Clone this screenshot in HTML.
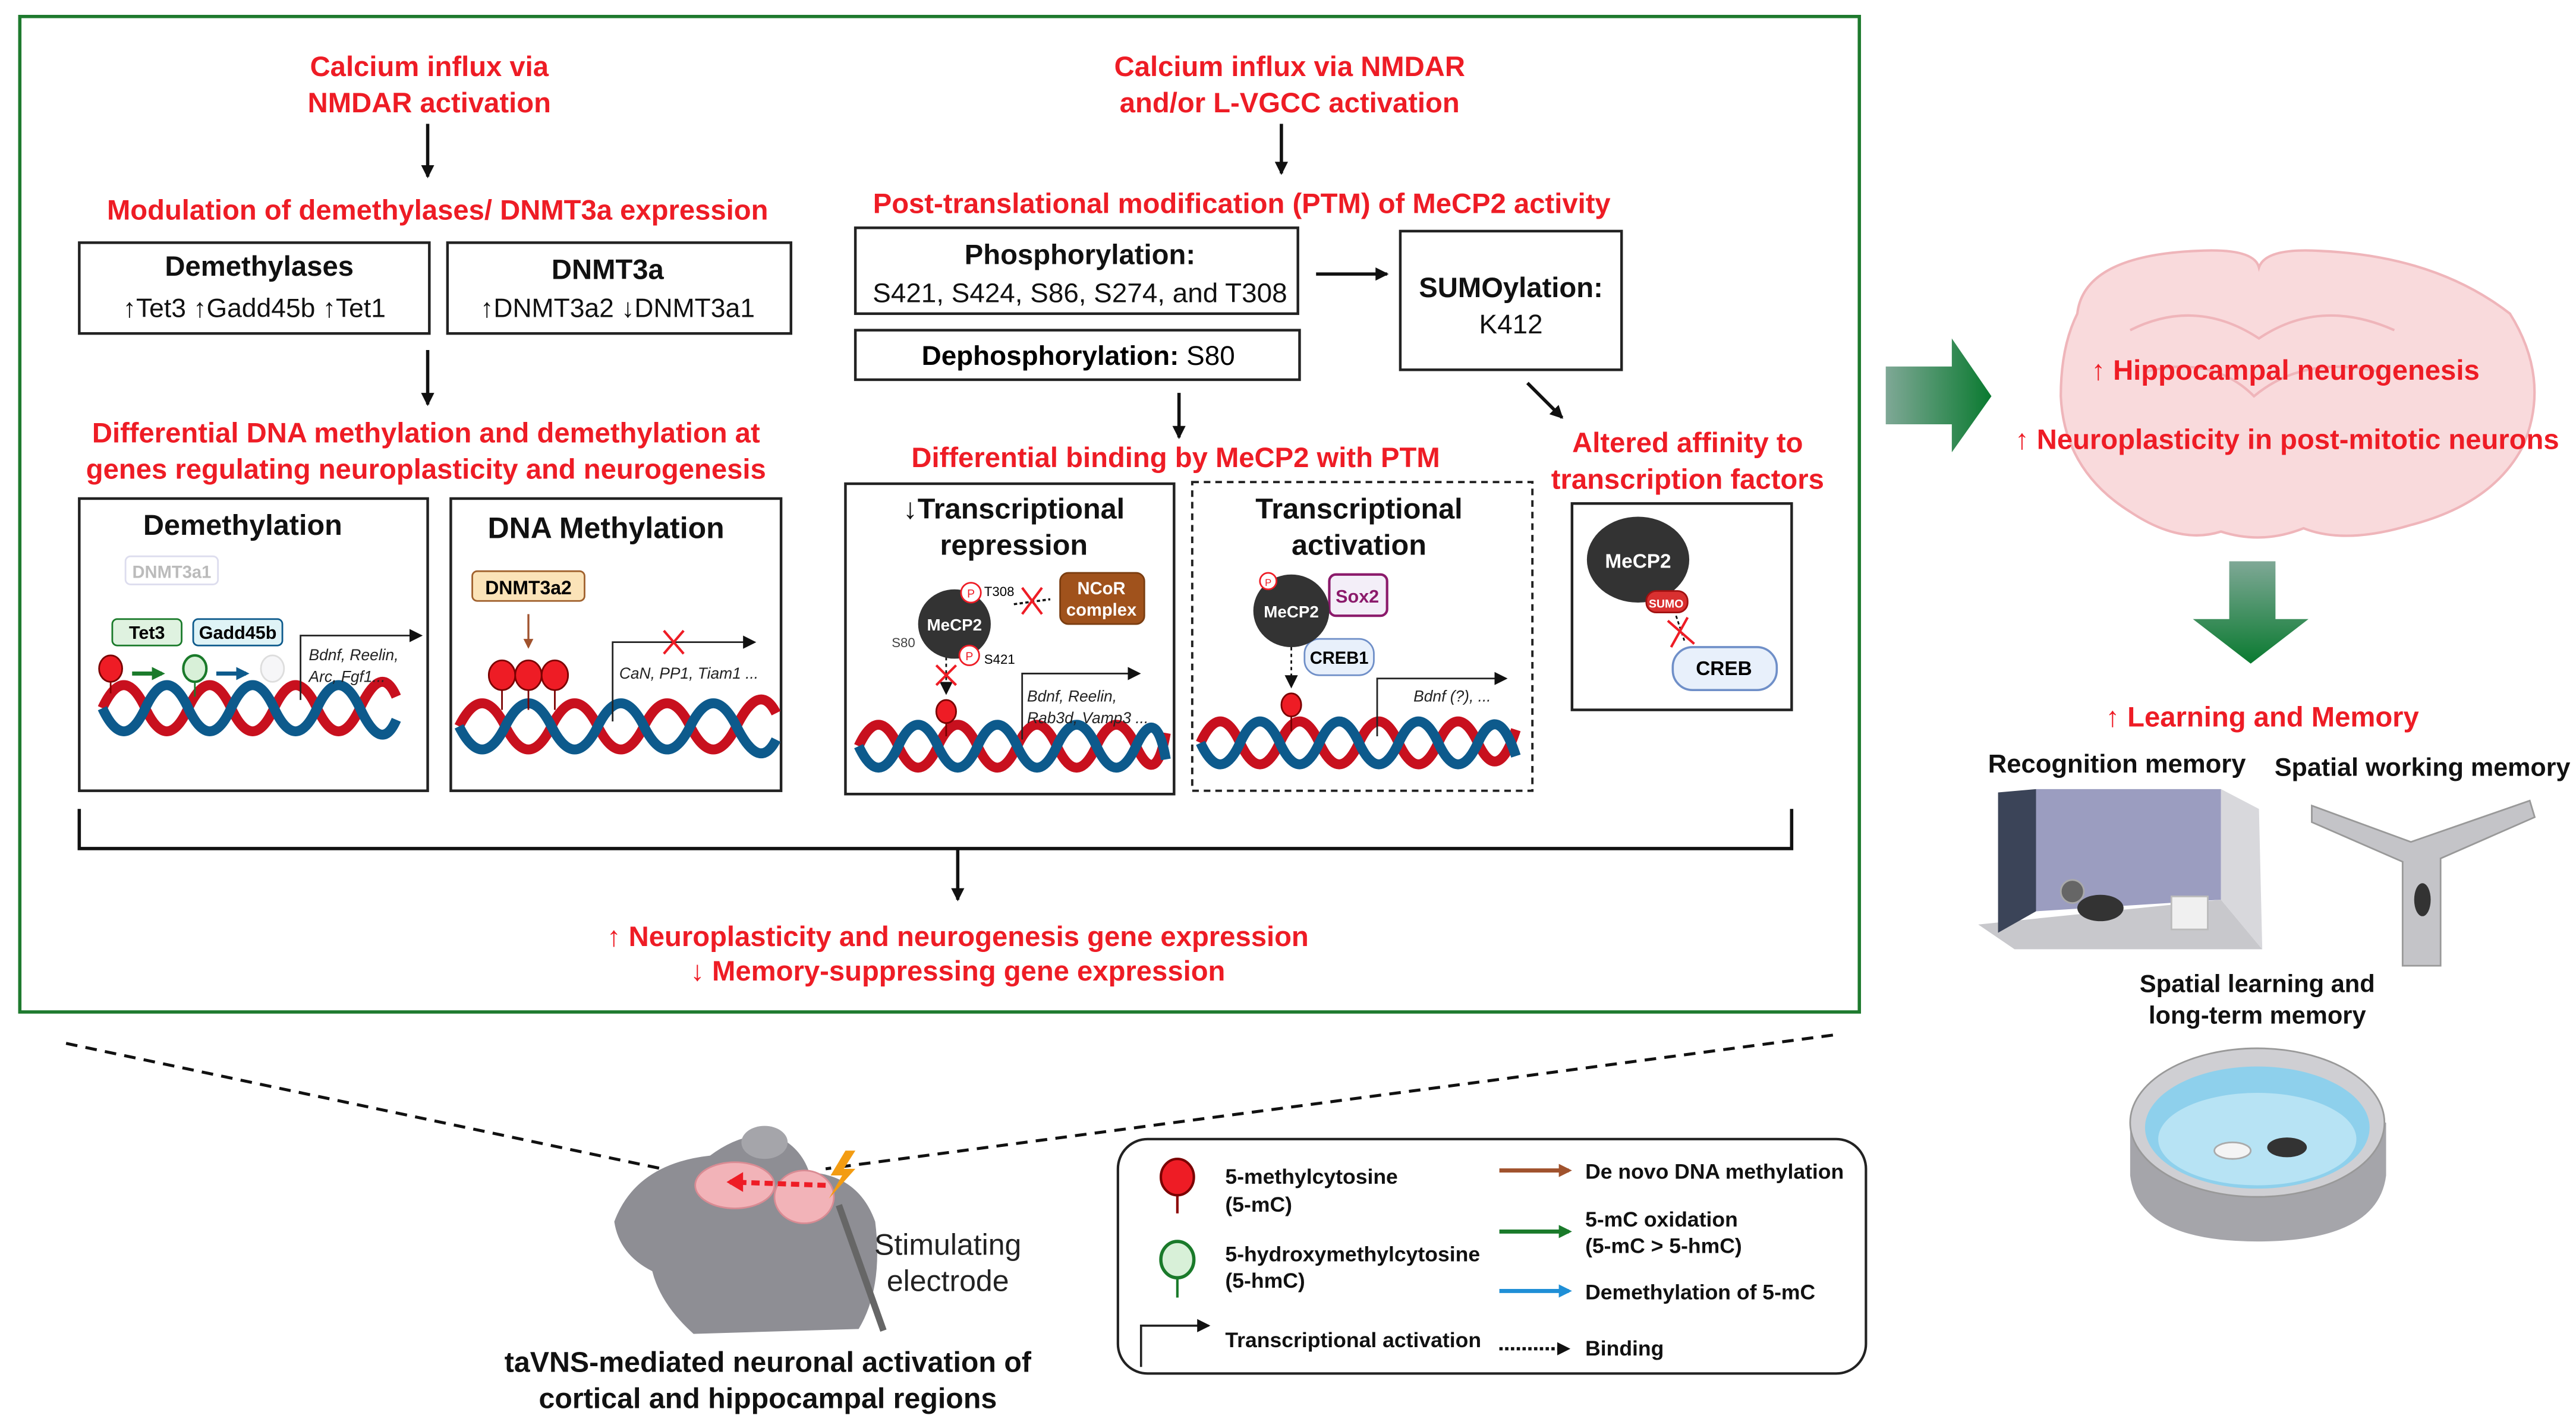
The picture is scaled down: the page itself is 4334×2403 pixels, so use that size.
<!DOCTYPE html>
<html><head><meta charset="utf-8"><style>
html,body{margin:0;padding:0;background:#fff;}
svg{display:block;}
text{font-family:"Liberation Sans",sans-serif;}
.r{fill:#ee1c25;font-weight:bold;font-size:17px;text-anchor:middle;}
.b{fill:#111;font-weight:bold;text-anchor:middle;}
.n{fill:#111;text-anchor:middle;}
.box{fill:#fff;stroke:#222;stroke-width:1.6;}
.red{fill:none;stroke:#c8101e;stroke-width:6;}
.blu{fill:none;stroke:#0d5a8c;stroke-width:6;}
.lg{fill:#111;font-weight:bold;font-size:12.8px;}
.it{fill:#222;font-style:italic;font-size:9.5px;}
</style></head><body>
<svg width="4334" height="2403" viewBox="0 0 1560 865" preserveAspectRatio="none" xmlns="http://www.w3.org/2000/svg">
<defs>
<marker id="ah" markerWidth="8" markerHeight="8" refX="7" refY="4" orient="auto" markerUnits="userSpaceOnUse"><path d="M0,0 L8,4 L0,8 z" fill="#111"/></marker>
<marker id="ahb" markerWidth="6" markerHeight="6" refX="5" refY="3" orient="auto" markerUnits="userSpaceOnUse"><path d="M0,0 L6,3 L0,6 z" fill="#a0522d"/></marker>
<marker id="ahg" markerWidth="8" markerHeight="8" refX="6" refY="4" orient="auto" markerUnits="userSpaceOnUse"><path d="M0,0 L8,4 L0,8 z" fill="#1a7a2a"/></marker>
<marker id="ahbl" markerWidth="8" markerHeight="8" refX="6" refY="4" orient="auto" markerUnits="userSpaceOnUse"><path d="M0,0 L8,4 L0,8 z" fill="#1f8fd6"/></marker>
<marker id="ahn" markerWidth="8" markerHeight="8" refX="6" refY="4" orient="auto" markerUnits="userSpaceOnUse"><path d="M0,0 L8,4 L0,8 z" fill="#0d5a8c"/></marker>
<marker id="ahbr" markerWidth="8" markerHeight="8" refX="6" refY="4" orient="auto" markerUnits="userSpaceOnUse"><path d="M0,0 L8,4 L0,8 z" fill="#a0522d"/></marker>
<linearGradient id="gg" x1="0" x2="1" y1="0" y2="0"><stop offset="0" stop-color="#7fa896"/><stop offset="1" stop-color="#0a7a30"/></linearGradient>
<linearGradient id="gv" x1="0" x2="0" y1="0" y2="1"><stop offset="0" stop-color="#7fa896"/><stop offset="1" stop-color="#0a7a30"/></linearGradient>
</defs>

<rect x="12" y="10" width="1114" height="603" fill="none" stroke="#1e7a2e" stroke-width="2"/>

<!-- left column -->
<text class="r" x="260" y="46">Calcium influx via</text>
<text class="r" x="260" y="68">NMDAR activation</text>
<line x1="259" y1="75" x2="259" y2="107" stroke="#111" stroke-width="2" marker-end="url(#ah)"/>
<text class="r" x="265" y="133">Modulation of demethylases/ DNMT3a expression</text>
<rect class="box" x="48" y="147" width="212" height="55"/>
<text class="b" x="157" y="167" font-size="17">Demethylases</text>
<text class="n" x="154" y="192" font-size="16">↑Tet3  ↑Gadd45b ↑Tet1</text>
<rect class="box" x="271" y="147" width="208" height="55"/>
<text class="b" x="368" y="169" font-size="17">DNMT3a</text>
<text class="n" x="374" y="192" font-size="16">↑DNMT3a2 ↓DNMT3a1</text>
<line x1="259" y1="212" x2="259" y2="245" stroke="#111" stroke-width="2" marker-end="url(#ah)"/>
<text class="r" x="258" y="268">Differential DNA methylation and demethylation at</text>
<text class="r" x="258" y="290">genes regulating neuroplasticity and neurogenesis</text>

<!-- demethylation panel -->
<rect class="box" x="48" y="302" width="211" height="177"/>
<text class="b" x="147" y="324" font-size="17.5">Demethylation</text>
<rect x="76" y="337" width="56" height="17" rx="3" fill="#fff" stroke="#dde" />
<text x="104" y="350" font-size="10.5" fill="#bbb" text-anchor="middle" font-weight="bold">DNMT3a1</text>
<rect x="68" y="375" width="42" height="16" rx="3" fill="#dff2e0" stroke="#1a7a2a"/>
<text x="89" y="387" font-size="11" font-weight="bold" text-anchor="middle">Tet3</text>
<rect x="117" y="375" width="54" height="16" rx="3" fill="#dff3f6" stroke="#0d5a8c"/>
<text x="144" y="387" font-size="11" font-weight="bold" text-anchor="middle">Gadd45b</text>
<path d="M62,429 Q75,401 88,429 T114,429 T140,429 T166,429 T192,429 T218,429 T240,422" class="red"/>
<path d="M62,429 Q75,457 88,429 T114,429 T140,429 T166,429 T192,429 T218,429 T240,436" class="blu"/>
<line x1="67" y1="405" x2="67" y2="420" stroke="#8b0000" stroke-width="1"/>
<ellipse cx="67" cy="405" rx="7" ry="8" fill="#ee1c25" stroke="#7a0000"/>
<line x1="80" y1="408" x2="98" y2="408" stroke="#1a7a2a" stroke-width="2.5" marker-end="url(#ahg)"/>
<line x1="118" y1="413" x2="118" y2="422" stroke="#1a7a2a"/>
<ellipse cx="118" cy="405" rx="7" ry="8" fill="#d8f0d8" stroke="#1a7a2a" stroke-width="1.5"/>
<line x1="131" y1="408" x2="149" y2="408" stroke="#0d5a8c" stroke-width="2.5" marker-end="url(#ahn)"/>
<ellipse cx="165" cy="405" rx="7" ry="8" fill="#f6f6f8" stroke="#ddd"/>
<path d="M182,424 V385 H255" fill="none" stroke="#222" stroke-width="1" marker-end="url(#ah)"/>
<text class="it" x="187" y="400">Bdnf, Reelin,</text>
<text class="it" x="187" y="413">Arc, Fgf1...</text>

<!-- DNA methylation panel -->
<rect class="box" x="273" y="302" width="200" height="177"/>
<text class="b" x="367" y="326" font-size="18">DNA Methylation</text>
<rect x="286" y="346" width="68" height="18" rx="3" fill="#fbe3b8" stroke="#a0612d"/>
<text x="320" y="360" font-size="11.5" font-weight="bold" text-anchor="middle">DNMT3a2</text>
<line x1="320" y1="372" x2="320" y2="392" stroke="#a0522d" stroke-width="1.2" marker-end="url(#ahb)"/>
<path d="M278,440 Q292,412 306,440 T334,440 T362,440 T390,440 T418,440 T446,440 T470,432" class="red"/>
<path d="M278,440 Q292,468 306,440 T334,440 T362,440 T390,440 T418,440 T446,440 T470,448" class="blu"/>
<g stroke="#7a0000" fill="#ee1c25"><line x1="304" y1="410" x2="304" y2="430"/><line x1="320" y1="410" x2="320" y2="430"/><line x1="336" y1="410" x2="336" y2="430"/>
<ellipse cx="304" cy="409" rx="8" ry="9"/><ellipse cx="320" cy="409" rx="8" ry="9"/><ellipse cx="336" cy="409" rx="8" ry="9"/></g>
<path d="M371,437 V389 H457" fill="none" stroke="#222" stroke-width="1" marker-end="url(#ah)"/>
<path d="M402,382 L414,396 M414,382 L402,396" stroke="#ee1c25" stroke-width="1.5"/>
<text class="it" x="375" y="411" font-size="11">CaN, PP1, Tiam1 ...</text>

<!-- right column -->
<text class="r" x="781" y="46">Calcium influx via NMDAR</text>
<text class="r" x="781" y="68">and/or L-VGCC activation</text>
<line x1="776" y1="75" x2="776" y2="105" stroke="#111" stroke-width="2" marker-end="url(#ah)"/>
<text class="r" x="752" y="129">Post-translational modification (PTM) of MeCP2 activity</text>
<rect class="box" x="518" y="138" width="268" height="52"/>
<text class="b" x="654" y="160" font-size="17">Phosphorylation:</text>
<text class="n" x="654" y="183" font-size="16.5">S421, S424, S86, S274, and T308</text>
<rect class="box" x="518" y="200" width="269" height="30"/>
<text x="653" y="221" font-size="16.5" text-anchor="middle"><tspan font-weight="bold">Dephosphorylation:</tspan> S80</text>
<rect class="box" x="848" y="140" width="134" height="84"/>
<text class="b" x="915" y="180" font-size="17">SUMOylation:</text>
<text class="n" x="915" y="202" font-size="16.5">K412</text>
<line x1="797" y1="166" x2="840" y2="166" stroke="#111" stroke-width="2" marker-end="url(#ah)"/>
<line x1="714" y1="238" x2="714" y2="265" stroke="#111" stroke-width="2" marker-end="url(#ah)"/>
<line x1="925" y1="232" x2="946" y2="253" stroke="#111" stroke-width="2" marker-end="url(#ah)"/>
<text class="r" x="712" y="283">Differential binding by MeCP2 with PTM</text>
<text class="r" x="1022" y="274">Altered affinity to</text>
<text class="r" x="1022" y="296">transcription factors</text>

<!-- repression panel -->
<rect class="box" x="512" y="293" width="199" height="188"/>
<text class="b" x="614" y="314" font-size="17.5">↓Transcriptional</text>
<text class="b" x="614" y="336" font-size="17.5">repression</text>
<path d="M520,452 Q532,426 544,452 T568,452 T592,452 T616,452 T640,452 T664,452 T688,452 T706,444" class="red"/>
<path d="M520,452 Q532,478 544,452 T568,452 T592,452 T616,452 T640,452 T664,452 T688,452 T706,460" class="blu"/>
<line x1="573" y1="438" x2="573" y2="446" stroke="#7a0000"/>
<ellipse cx="573" cy="431" rx="6" ry="7" fill="#ee1c25" stroke="#7a0000"/>
<line x1="573" y1="398" x2="573" y2="420" stroke="#111" stroke-dasharray="2,2" marker-end="url(#ah)"/>
<path d="M567,403 L579,415 M579,403 L567,415" stroke="#ee1c25" stroke-width="1.5"/>
<ellipse cx="578" cy="378" rx="22" ry="21" fill="#333"/>
<text x="578" y="382" font-size="10" fill="#fff" font-weight="bold" text-anchor="middle">MeCP2</text>
<circle cx="588" cy="359" r="6" fill="#fff" stroke="#ee1c25"/><text x="588" y="362" font-size="7" fill="#ee1c25" text-anchor="middle">P</text>
<circle cx="587" cy="397" r="6" fill="#fff" stroke="#ee1c25"/><text x="587" y="400" font-size="7" fill="#ee1c25" text-anchor="middle">P</text>
<text x="596" y="361" font-size="8">T308</text><text x="596" y="402" font-size="8">S421</text><text x="540" y="392" font-size="8" fill="#444">S80</text>
<line x1="614" y1="366" x2="636" y2="363" stroke="#111" stroke-dasharray="2,1.5" stroke-width="1.3"/>
<path d="M619,356 L631,372 M631,356 L619,372" stroke="#ee1c25" stroke-width="1.5"/>
<rect x="642" y="347" width="51" height="31" rx="5" fill="#a0521c" stroke="#7a3d10"/>
<text x="667" y="360" font-size="10.5" fill="#fff" font-weight="bold" text-anchor="middle">NCoR</text>
<text x="667" y="373" font-size="10.5" fill="#fff" font-weight="bold" text-anchor="middle">complex</text>
<path d="M619,448 V408 H690" fill="none" stroke="#222" stroke-width="1" marker-end="url(#ah)"/>
<text class="it" x="622" y="425">Bdnf, Reelin,</text>
<text class="it" x="622" y="438">Rab3d, Vamp3 ...</text>

<!-- activation panel -->
<rect x="722" y="292" width="206" height="187" fill="#fff" stroke="#222" stroke-width="1.4" stroke-dasharray="4,3"/>
<text class="b" x="823" y="314" font-size="17.5">Transcriptional</text>
<text class="b" x="823" y="336" font-size="17.5">activation</text>
<path d="M727,450 Q739,424 751,450 T775,450 T799,450 T823,450 T847,450 T871,450 T895,450 T918,442" class="red"/>
<path d="M727,450 Q739,476 751,450 T775,450 T799,450 T823,450 T847,450 T871,450 T895,450 T918,458" class="blu"/>
<line x1="782" y1="433" x2="782" y2="443" stroke="#7a0000"/>
<ellipse cx="782" cy="427" rx="6" ry="7" fill="#ee1c25" stroke="#7a0000"/>
<line x1="782" y1="392" x2="782" y2="416" stroke="#111" stroke-dasharray="2,2" marker-end="url(#ah)"/>
<rect x="805" y="348" width="35" height="25" rx="4" fill="#f3eef8" stroke="#8b1a6b" stroke-width="1.5"/>
<text x="822" y="365" font-size="11" fill="#8b1a6b" font-weight="bold" text-anchor="middle">Sox2</text>
<rect x="790" y="387" width="42" height="22" rx="9" fill="#e8f0fb" stroke="#6f8fc8"/>
<text x="811" y="402" font-size="10.5" font-weight="bold" text-anchor="middle">CREB1</text>
<ellipse cx="782" cy="370" rx="23" ry="22" fill="#333"/>
<text x="782" y="374" font-size="10" fill="#fff" font-weight="bold" text-anchor="middle">MeCP2</text>
<circle cx="768" cy="352" r="5" fill="#fff" stroke="#ee1c25"/><text x="768" y="355" font-size="6" fill="#ee1c25" text-anchor="middle">P</text>
<path d="M834,446 V411 H912" fill="none" stroke="#222" stroke-width="1" marker-end="url(#ah)"/>
<text class="it" x="856" y="425">Bdnf (?), ...</text>

<!-- CREB panel -->
<rect class="box" x="952" y="305" width="133" height="125"/>
<ellipse cx="992" cy="339" rx="31" ry="26" fill="#333"/>
<text x="992" y="344" font-size="12" fill="#fff" font-weight="bold" text-anchor="middle">MeCP2</text>
<rect x="997" y="358" width="25" height="13" rx="6" fill="#d93030" stroke="#a01010"/>
<text x="1009" y="368" font-size="7" fill="#fff" font-weight="bold" text-anchor="middle">SUMO</text>
<line x1="1015" y1="373" x2="1020" y2="388" stroke="#111" stroke-dasharray="2,1.5"/>
<path d="M1010,376 L1026,390 M1022,374 L1012,392" stroke="#ee1c25" stroke-width="1.5"/>
<rect x="1013" y="392" width="63" height="26" rx="12" fill="#e8f0fb" stroke="#6f8fc8" stroke-width="1.3"/>
<text x="1044" y="409" font-size="12" font-weight="bold" text-anchor="middle">CREB</text>

<!-- bracket -->
<path d="M48,490 V514 H1085 V490" fill="none" stroke="#111" stroke-width="2"/>
<line x1="580" y1="514" x2="580" y2="545" stroke="#111" stroke-width="2" marker-end="url(#ah)"/>
<text class="r" x="580" y="573" font-size="16.4">↑ Neuroplasticity and neurogenesis gene expression</text>
<text class="r" x="580" y="594" font-size="16.4">↓ Memory-suppressing gene expression</text>

<line x1="40" y1="632" x2="420" y2="712" stroke="#111" stroke-width="1.8" stroke-dasharray="7,5"/>
<line x1="1110" y1="627" x2="500" y2="708" stroke="#111" stroke-width="1.8" stroke-dasharray="7,5"/>

<!-- mouse -->
<path d="M372,740 Q385,705 430,700 Q450,685 470,688 Q485,695 490,710 Q520,712 530,740 Q535,780 520,805 L420,808 Q400,790 395,770 Q375,760 372,740 z" fill="#8e8e94"/>
<ellipse cx="463" cy="692" rx="14" ry="10" fill="#a5a5aa"/>
<ellipse cx="445" cy="718" rx="24" ry="14" fill="#f2b3b8" stroke="#d98b93"/>
<ellipse cx="487" cy="725" rx="18" ry="16" fill="#f2b3b8" stroke="#d98b93"/>
<line x1="500" y1="718" x2="442" y2="716" stroke="#ee1c25" stroke-width="3" stroke-dasharray="5,3"/>
<path d="M440,716 L450,710 L450,722 z" fill="#ee1c25"/>
<path d="M512,697 L503,712 L510,712 L502,726 L518,708 L511,708 L518,697 z" fill="#f39c12"/>
<line x1="508" y1="730" x2="535" y2="806" stroke="#666" stroke-width="4"/>
<text x="574" y="760" font-size="18" text-anchor="middle" fill="#222">Stimulating</text>
<text x="574" y="782" font-size="18" text-anchor="middle" fill="#222">electrode</text>
<text class="b" x="465" y="831" font-size="17.4">taVNS-mediated neuronal activation of</text>
<text class="b" x="465" y="853" font-size="17.4">cortical and hippocampal regions</text>

<!-- legend -->
<rect x="677" y="690" width="453" height="142" rx="18" fill="#fff" stroke="#222" stroke-width="1.5"/>
<line x1="713" y1="722" x2="713" y2="735" stroke="#8b0000" stroke-width="1.5"/>
<ellipse cx="713" cy="713" rx="10" ry="11" fill="#ee1c25" stroke="#7a0000" stroke-width="1.5"/>
<text class="lg" x="742" y="717">5-methylcytosine</text><text class="lg" x="742" y="734">(5-mC)</text>
<line x1="713" y1="772" x2="713" y2="786" stroke="#1a7a2a" stroke-width="1.5"/>
<ellipse cx="713" cy="763" rx="10" ry="11" fill="#d8f0d8" stroke="#1a7a2a" stroke-width="2"/>
<text class="lg" x="742" y="764">5-hydroxymethylcytosine</text><text class="lg" x="742" y="780">(5-hmC)</text>
<path d="M691,828 V803 H732" fill="none" stroke="#222" stroke-width="1.3" marker-end="url(#ah)"/>
<text class="lg" x="742" y="816">Transcriptional activation</text>
<line x1="908" y1="709" x2="950" y2="709" stroke="#a0522d" stroke-width="2.5" marker-end="url(#ahbr)"/>
<text class="lg" x="960" y="714">De novo DNA methylation</text>
<line x1="908" y1="746" x2="950" y2="746" stroke="#1a7a2a" stroke-width="2.5" marker-end="url(#ahg)"/>
<text class="lg" x="960" y="743">5-mC oxidation</text><text class="lg" x="960" y="759">(5-mC &gt; 5-hmC)</text>
<line x1="908" y1="782" x2="950" y2="782" stroke="#1f8fd6" stroke-width="2.5" marker-end="url(#ahbl)"/>
<text class="lg" x="960" y="787">Demethylation of 5-mC</text>
<line x1="908" y1="817" x2="950" y2="817" stroke="#111" stroke-width="2" stroke-dasharray="2,1.5" marker-end="url(#ah)"/>
<text class="lg" x="960" y="821">Binding</text>

<!-- right side -->
<path d="M1142,222 H1182 V205 L1206,240 L1182,274 V257 H1142 z" fill="url(#gg)"/>
<path d="M1258,190 Q1262,155 1330,152 Q1365,150 1368,162 Q1372,150 1405,152 Q1475,155 1520,190 Q1545,230 1528,270 Q1510,305 1460,318 Q1420,330 1395,320 Q1370,330 1345,322 Q1320,330 1290,310 Q1250,285 1248,240 Q1248,210 1258,190 z" fill="#f9dadc" stroke="#efb5ba" stroke-width="1.5"/>
<path d="M1290,200 Q1330,180 1368,205 Q1405,180 1450,200 M1300,225 Q1340,215 1365,240 Q1395,215 1440,225" fill="none" stroke="#efb5ba" stroke-width="1.5"/>
<text class="r" x="1384" y="230" font-size="16.6">↑ Hippocampal neurogenesis</text>
<text class="r" x="1385" y="272" font-size="16.6">↑ Neuroplasticity in post-mitotic neurons</text>
<path d="M1350,340 H1378 V375 H1398 L1363,402 L1328,375 H1350 z" fill="url(#gv)"/>
<text class="r" x="1370" y="440" font-size="22">↑ Learning and Memory</text>
<text class="b" x="1282" y="468" font-size="15.7">Recognition memory</text>
<text class="b" x="1467" y="470" font-size="15.5">Spatial working memory</text>
<path d="M1198,560 L1345,545 L1370,575 L1220,575 z" fill="#c8c8cc"/>
<path d="M1233,478 L1345,478 L1345,545 L1233,552 z" fill="#9b9dc0"/>
<path d="M1210,480 L1233,478 L1233,552 L1210,565 z" fill="#3b4458"/>
<path d="M1345,478 L1368,490 L1370,575 L1345,545 z" fill="#d8d8dc"/>
<rect x="1315" y="543" width="22" height="20" fill="#f0f0f0" stroke="#bbb"/>
<ellipse cx="1272" cy="550" rx="14" ry="8" fill="#333"/>
<circle cx="1255" cy="540" r="7" fill="#666" stroke="#aaa"/>
<path d="M1400,488 L1460,510 L1532,485 L1535,495 L1478,520 L1478,585 L1455,585 L1455,522 L1400,498 z" fill="#c4c4c8" stroke="#999"/>
<ellipse cx="1467" cy="545" rx="5" ry="10" fill="#333"/>
<text class="b" x="1367" y="601" font-size="15">Spatial learning and</text>
<text class="b" x="1367" y="620" font-size="15">long-term memory</text>
<path d="M1290,680 L1290,712 Q1295,752 1367,752 Q1440,752 1445,712 L1445,680 z" fill="#a5a5aa"/>
<ellipse cx="1367" cy="680" rx="77" ry="45" fill="#cfcfd3" stroke="#999"/>
<ellipse cx="1367" cy="683" rx="68" ry="37" fill="#8ed0ec"/>
<ellipse cx="1367" cy="690" rx="60" ry="28" fill="#b7e3f4"/>
<ellipse cx="1352" cy="697" rx="11" ry="5" fill="#f4f4f4" stroke="#aaa"/>
<ellipse cx="1385" cy="695" rx="12" ry="6" fill="#333"/>
</svg>
</body></html>
